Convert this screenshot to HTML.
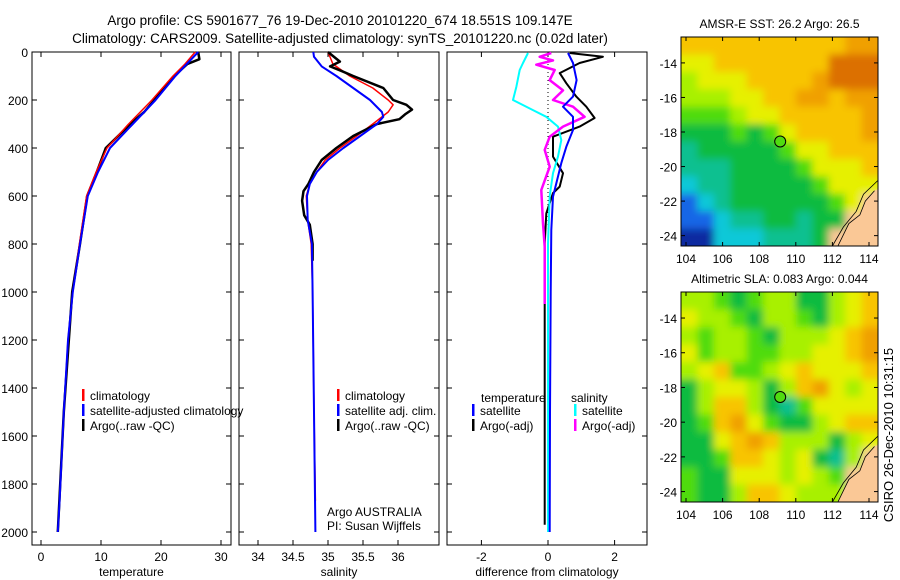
<!DOCTYPE html>
<html><head><meta charset="utf-8"><style>
body{margin:0;background:#fff}
svg{display:block;font-family:"Liberation Sans",sans-serif}
text{font-size:12px;fill:#000}
</style></head><body>
<svg id="fig" width="900" height="580" viewBox="0 0 900 580">
<defs>
<filter id="blur" x="-10%" y="-10%" width="120%" height="120%"><feGaussianBlur stdDeviation="4"/></filter>
<clipPath id="clipTop"><rect x="681" y="37" width="197" height="209"/></clipPath>
<clipPath id="clipBot"><rect x="681" y="292" width="197" height="210"/></clipPath>
</defs>
<text x="340" y="25" text-anchor="middle" style="font-size:13.5px">Argo profile: CS 5901677_76 19-Dec-2010 20101220_674 18.551S 109.147E</text>
<text x="340" y="43" text-anchor="middle" style="font-size:13.5px">Climatology: CARS2009. Satellite-adjusted climatology: synTS_20101220.nc (0.02d later)</text>
<text transform="translate(893,435) rotate(-90)" text-anchor="middle" style="font-size:13px">CSIRO 26-Dec-2010 10:31:15</text>
</svg>
<script>
// ---- temperature panel data ----
const tDepth = [0,50,100,200,300,400,500,600,800,1000,1200,1500,1870,2000];
const tClim = [25.7,24,22,18.5,14.6,11,9.2,7.6,6.4,5.3,4.5,3.8,3.1,null];
const tSat  = [26.2,24.3,22.4,19.1,15.3,11.5,9.5,7.8,6.5,5.3,4.5,3.8,3.1,2.8];
const tArgoDepth = [0,30,50,100,200,250,300,400,500,600,800,1000,1500,2000];
const tArgo = [26.2,26.4,24.4,22.2,18.9,17.2,14.9,10.8,9.3,7.7,6.5,5.2,3.8,2.8];
// ---- salinity panel data ----
const sDepth = [0,20,60,100,150,200,250,270,300,350,400,450,500,550,600,700,800,1000,1500,2000];
const sSat = [34.79,34.8,34.91,35.12,35.36,35.6,35.77,35.79,35.7,35.46,35.22,35.0,34.84,34.74,34.7,34.71,34.77,34.78,34.8,34.82];
const sClimDepth = [0,50,100,150,200,220,250,300,350,400,450,500,550,600,700,800,1000,1500,1870];
const sClim = [35.0,35.07,35.31,35.64,35.86,35.93,35.86,35.64,35.41,35.17,34.96,34.84,34.74,34.69,34.71,34.76,34.78,34.8,34.82];
const sArgoDepth = [0,40,60,80,100,150,200,220,240,260,280,300,350,400,450,500,550,580,620,680,720,800,870];
const sArgo = [35.0,35.17,35.03,35.2,35.36,35.79,35.93,36.12,36.2,36.1,36.02,35.7,35.36,35.12,34.91,34.8,34.72,34.65,34.63,34.66,34.74,34.78,34.78];
// ---- difference panel data ----
const dTSatDepth = [4,46,117,186,228,270,325,395,463,603,742,1000,1500,2000];
const dTSat = [0.6,0.75,0.86,0.75,0.45,0.75,0.75,0.55,0.4,0.15,0.1,0.08,0.06,0.05];
const dTArgoDepth = [4,20,46,88,130,186,228,275,311,353,436,505,561,588,672,800,1000,1500,1970];
const dTArgo = [0.65,1.65,0.95,0.35,0.55,0.85,1.15,1.4,0.95,0.15,0.15,0.45,0.35,0.15,-0.05,-0.1,-0.1,-0.1,-0.1];
const dSSatDepth = [4,46,75,144,200,242,270,311,367,436,505,600,800,1200,2000];
const dSSat = [-0.6,-0.75,-0.85,-0.95,-1.05,-0.45,-0.05,0.3,0.4,0.3,0.15,0.05,0.0,0.0,0.0];
const dSArgoDepth = [4,20,35,53,75,117,160,200,228,270,311,353,408,478,575,714,811,1050];
const dSArgo = [0.1,-0.25,0.15,-0.35,0.2,0.05,0.45,0.15,0.75,1.1,0.45,0.05,-0.1,0.05,-0.2,-0.15,-0.1,-0.1];
// ---- map grids (row = latitude band from north, digit = colour class) ----
const sstRows = ["888888888899","778888888AAA","677788889AAA","666778899899","555677888889","444545788889","344444577888","333444457778","233444445777","12344444457L","1123344344LL","002223334LLL"];
const slaRows = ["665456644678","766546654678","656654666789","756655667789","678556787778","467764689767","468864357777","458975446788","447898666467","44588767436L","5447776765LL","5446887666LL"];

const NS='http://www.w3.org/2000/svg';
const svg=document.getElementById('fig');
function el(tag,attrs,parent){const e=document.createElementNS(NS,tag);for(const k in attrs)e.setAttribute(k,attrs[k]);(parent||svg).appendChild(e);return e;}
const yTop=52, yPer=0.24, yBot=545;
const yScale=d=>yTop+d*yPer;

function panel(name,x0,x1,xs,ticks,tickLabels,xlabel,showY){
  const g=el('g',{});
  
  
  const r=el('rect',{x:x0,y:yTop,width:x1-x0,height:yBot-yTop,fill:'none',stroke:'#000','stroke-width':1},g);
  
  
  for(let d=0;d<=2000;d+=200){
    const y=yScale(d);
    el('line',{x1:x0,x2:x0+5,y1:y,y2:y,stroke:'#000'},g);
    el('line',{x1:x1-5,x2:x1,y1:y,y2:y,stroke:'#000'},g);
    if(showY){const t=el('text',{x:x0-4,y:y+5,'text-anchor':'end'},g);t.textContent=d;
      
      }
  }
  ticks.forEach((v,i)=>{const x=xs(v);
    el('line',{x1:x,x2:x,y1:yTop,y2:yTop+5,stroke:'#000'},g);
    el('line',{x1:x,x2:x,y1:yBot-5,y2:yBot,stroke:'#000'},g);
    const t=el('text',{x:x,y:yBot+16,'text-anchor':'middle'},g);t.textContent=tickLabels[i];
    
    
  });
  const xl=el('text',{x:(x0+x1)/2,y:576,'text-anchor':'middle'},g);xl.textContent=xlabel;
  
  
  return g;
}
function line(g,name,xs,depths,vals,color,w){
  let p='';depths.forEach((d,i)=>{if(vals[i]===null||vals[i]===undefined)return;p+=(p?'L':'M')+xs(vals[i]).toFixed(1)+','+yScale(d).toFixed(1);});
  const e=el('path',{d:p,fill:'none',stroke:color,'stroke-width':w,'stroke-linejoin':'round'},g);
  
  
}
function legend(g,x,y,color,label,name){
  el('rect',{x:x,y:y-9,width:2.5,height:12,fill:color},g);
  const t=el('text',{x:x+8,y:y+2},g);t.textContent=label;
  
  
}
// temperature
const xT=v=>41+6*v;
const gT=panel('temperature-panel',32,231,xT,[0,10,20,30],['0','10','20','30'],'temperature',true);
line(gT,'temperature-argo',xT,tArgoDepth,tArgo,'#000',2.5);
line(gT,'temperature-climatology',xT,tDepth,tClim,'#f00',1.5);
line(gT,'temperature-satellite',xT,tDepth,tSat,'#00f',2);
legend(gT,82,398,'#f00','climatology','legend-climatology');
legend(gT,82,413,'#00f','satellite-adjusted climatology','legend-satellite');
legend(gT,82,428,'#000','Argo(..raw -QC)','legend-argo');
// salinity
const xS=v=>258+70*(v-34);
const gS=panel('salinity-panel',239,439,xS,[34,34.5,35,35.5,36],['34','34.5','35','35.5','36'],'salinity',false);
line(gS,'salinity-climatology',xS,sClimDepth,sClim,'#f00',1.5);
line(gS,'salinity-argo',xS,sArgoDepth,sArgo,'#000',2.5);
line(gS,'salinity-satellite',xS,sDepth,sSat,'#00f',2);
legend(gS,337,398,'#f00','climatology','legend-climatology');
legend(gS,337,413,'#00f','satellite adj. clim.','legend-satellite');
legend(gS,337,428,'#000','Argo(..raw -QC)','legend-argo');
const a1=el('text',{x:327,y:516},gS);a1.textContent='Argo AUSTRALIA';


const a2=el('text',{x:327,y:530},gS);a2.textContent='PI: Susan Wijffels';


// difference
const xD=v=>548+33.3*v;
const gD=panel('difference-panel',447,647,xD,[-2,0,2],['-2','0','2'],'difference from climatology',false);
el('line',{x1:xD(0),x2:xD(0),y1:yTop,y2:yScale(2000),stroke:'#000','stroke-dasharray':'1,3'},gD);
line(gD,'diff-temp-argo',xD,dTArgoDepth,dTArgo,'#000',2);
line(gD,'diff-sal-satellite',xD,dSSatDepth,dSSat,'#0ff',2);
line(gD,'diff-sal-argo',xD,dSArgoDepth,dSArgo,'#f0f',2.5);
line(gD,'diff-temp-satellite',xD,dTSatDepth,dTSat,'#00f',2);
const lt=el('text',{x:481,y:402},gD);lt.textContent='temperature';


const ls=el('text',{x:571,y:402},gD);ls.textContent='salinity';


legend(gD,472,413,'#00f','satellite','legend-temp-satellite');
legend(gD,472,428,'#000','Argo(-adj)','legend-temp-argo');
legend(gD,574,413,'#0ff','satellite','legend-sal-satellite');
legend(gD,574,428,'#f0f','Argo(-adj)','legend-sal-argo');
// maps
const cmap={'0':'#0a2aa0','1':'#1466e6','2':'#10c8d8','3':'#10c090','4':'#10bb40','5':'#50dc10','6':'#a8f000','7':'#e6f000','8':'#f8c400','9':'#f0a000','A':'#dc7000','L':'#fac896'};
function map(name,y0,y1,rows,title,clip){
  const x0=681,x1=878;
  const g=el('g',{});
  
  
  const lon=v=>686+18.3*(v-104);
  const per=(y1-y0)/12.1;
  const lat=v=>y0+(v-12.5)*per;
  const cw=(x1-x0)/12, ch=(y1-y0)/12;
  const cg=el('g',{'clip-path':'url(#'+clip+')'},g);
  const bg=el('g',{filter:'url(#blur)'},cg);
  rows.forEach((r,i)=>{for(let j=0;j<12;j++){
    let x=x0+j*cw, y=y0+i*ch, w=cw+0.6, h=ch+0.6;
    if(j===0){x-=12;w+=12;} if(j===11){w+=12;}
    if(i===0){y-=12;h+=12;} if(i===11){h+=12;}
    const c=el('rect',{x:x,y:y,width:w,height:h,fill:cmap[r[j]]},bg);
    
    
  }});
  const coast=el('path',{d:`M${lon(112.3)},${y1} L${lon(112.9)},${lat(23.3)} L${lon(113.5)},${lat(22.8)} L${lon(113.8)},${lat(22)} L${lon(114.3)},${lat(21.4)} L${x1},${lat(21.3)} L${x1},${y1} Z`,fill:'#fac896',stroke:'none'},cg);
  
  
  el('path',{d:`M${lon(112.3)},${y1} L${lon(112.9)},${lat(23.3)} L${lon(113.5)},${lat(22.8)} L${lon(113.8)},${lat(22)} L${lon(114.3)},${lat(21.4)} M${lon(112.0)},${y1} L${lon(112.6)},${lat(23.5)} L${lon(113.3)},${lat(22.6)} L${lon(113.7)},${lat(21.6)} L${x1},${lat(20.8)}`,fill:'none',stroke:'#000','stroke-width':0.8},cg);
  el('rect',{x:x0,y:y0,width:x1-x0,height:y1-y0,fill:'none',stroke:'#000'},g);
  for(let v=104;v<=114;v+=2){const x=lon(v);
    el('line',{x1:x,x2:x,y1:y1-4,y2:y1,stroke:'#000'},g);el('line',{x1:x,x2:x,y1:y0,y2:y0+4,stroke:'#000'},g);
    const t=el('text',{x:x,y:y1+17,'text-anchor':'middle'},g);t.textContent=v;
    
    }
  for(let v=14;v<=24;v+=2){const y=lat(v);
    el('line',{x1:x0,x2:x0+4,y1:y,y2:y,stroke:'#000'},g);el('line',{x1:x1-4,x2:x1,y1:y,y2:y,stroke:'#000'},g);
    const t=el('text',{x:x0-4,y:y+5,'text-anchor':'end'},g);t.textContent='-'+v;
    
    }
  const m=el('circle',{cx:lon(109.147),cy:lat(18.551),r:5.5,fill:'#50dc10',stroke:'#000'},g);
  
  
  const t=el('text',{x:(x0+x1)/2,y:y0-9,'text-anchor':'middle'},g);t.textContent=title;
  
  
}
map('sst-map',37,246,sstRows,'AMSR-E SST: 26.2 Argo: 26.5','clipTop');
map('sla-map',292,502,slaRows,'Altimetric SLA: 0.083 Argo: 0.044','clipBot');
</script>
</body></html>
